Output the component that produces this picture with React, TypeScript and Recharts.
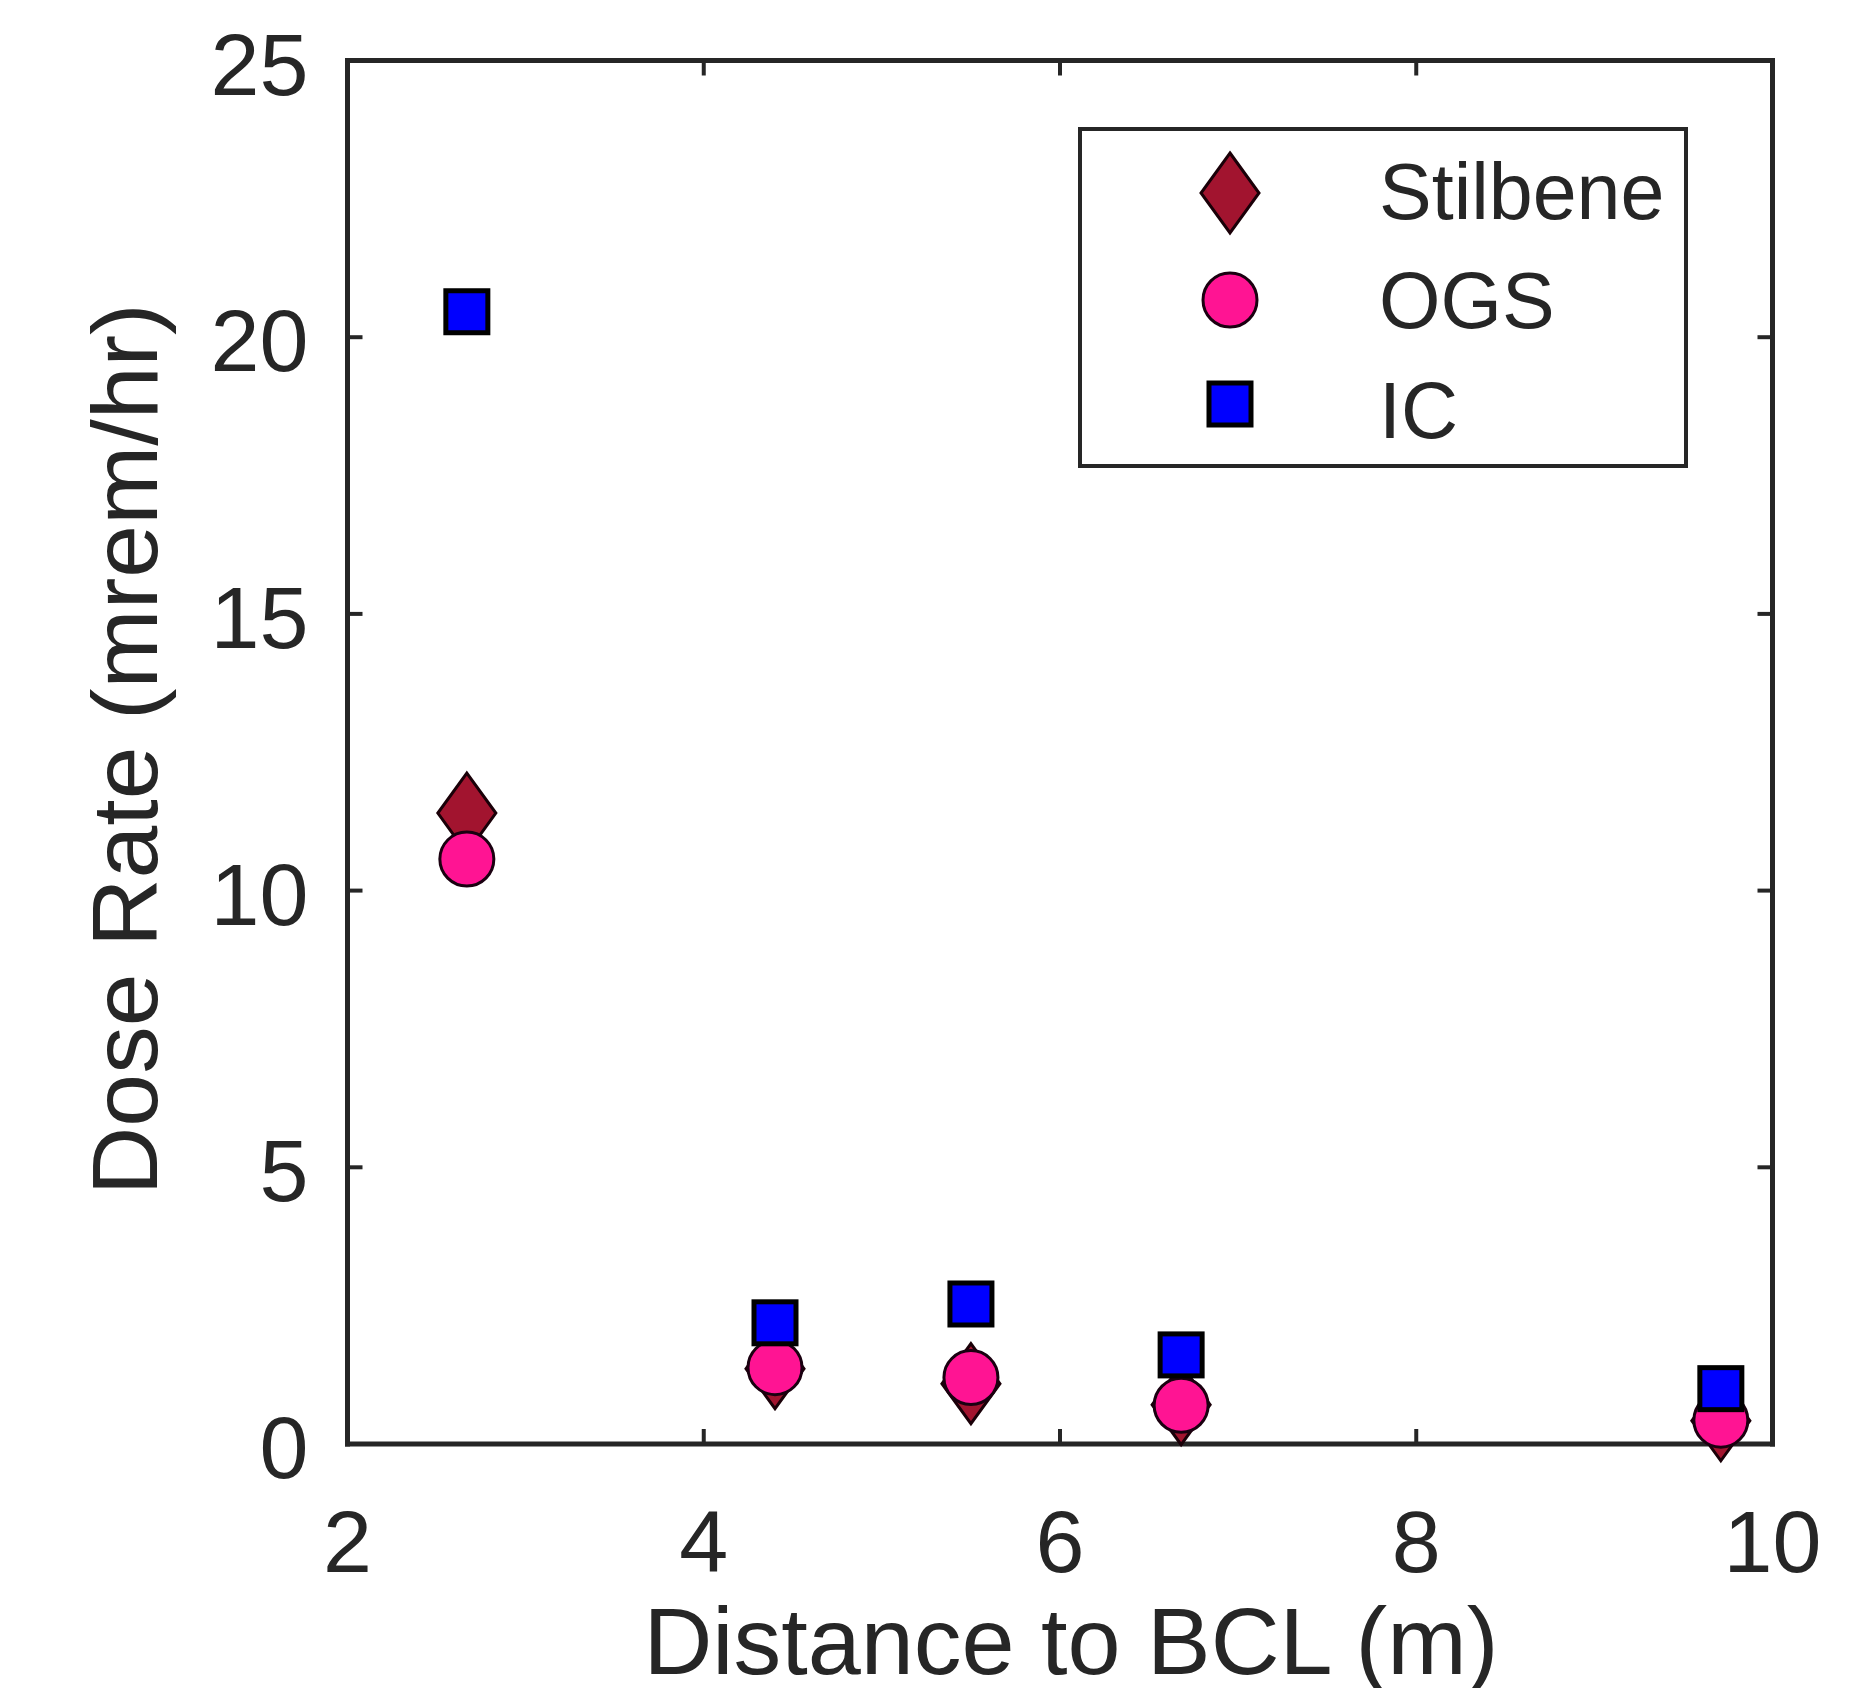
import React from 'react';
import { ScatterChart, Scatter, XAxis, YAxis, Legend, Label } from 'recharts';

// Data
const distances = [2.67, 4.40, 5.50, 6.68, 9.71];
const stilbene = [11.40, 1.36, 1.09, 0.71, 0.42];
const ogs = [10.57, 1.38, 1.20, 0.70, 0.43];
const ic = [20.46, 2.19, 2.53, 1.61, 1.00];
const xTicks = [2, 4, 6, 8, 10];
const yTicks = [0, 5, 10, 15, 20, 25];
const seriesNames = ['Stilbene', 'OGS', 'IC'];

const stilbeneData = distances.map((x, i) => ({ x, y: stilbene[i] }));
const ogsData = distances.map((x, i) => ({ x, y: ogs[i] }));
const icData = distances.map((x, i) => ({ x, y: ic[i] }));

const FONT = '"Liberation Sans", Arial, Helvetica, sans-serif';
const INK = '#262626';
const FRAME = { stroke: INK, strokeWidth: 5, strokeLinecap: 'square' as const };

const DiamondMark = ({ cx, cy }: any) => (
  <polygon
    points={`${cx},${cy - 40} ${cx + 29},${cy} ${cx},${cy + 40} ${cx - 29},${cy}`}
    fill="#A2142F"
    stroke="#1a0008"
    strokeWidth={3}
  />
);
const CircleMark = ({ cx, cy }: any) => (
  <circle cx={cx} cy={cy} r={27} fill="#FF1493" stroke="#1a0010" strokeWidth={3} />
);
const SquareMark = ({ cx, cy }: any) => (
  <rect x={cx - 21} y={cy - 21} width={42} height={42} fill="#0000FF" stroke="#000" strokeWidth={5} />
);

const BottomTick = ({ x, y, payload }: any) => (
  <g>
    <line x1={x} y1={y} x2={x} y2={y - 15} stroke={INK} strokeWidth={4} />
    <text x={x} y={y + 128} textAnchor="middle" fontFamily={FONT} fontSize={88} fill={INK}>
      {payload.value}
    </text>
  </g>
);
const TopTick = ({ x, y }: any) => (
  <line x1={x} y1={y} x2={x} y2={y + 15} stroke={INK} strokeWidth={4} />
);
const LeftTick = ({ x, y, payload }: any) => (
  <g>
    <line x1={x} y1={y} x2={x + 15} y2={y} stroke={INK} strokeWidth={4} />
    <text x={x - 39} y={y + 34} textAnchor="end" fontFamily={FONT} fontSize={88} fill={INK}>
      {payload.value}
    </text>
  </g>
);
const RightTick = ({ x, y }: any) => (
  <line x1={x} y1={y} x2={x - 15} y2={y} stroke={INK} strokeWidth={4} />
);

const XTitle = ({ viewBox }: any) => {
  const cx = viewBox.x + viewBox.width / 2 + 11;
  return (
    <text
      x={cx}
      y={viewBox.y + 230}
      textAnchor="middle"
      fontFamily={FONT}
      fontSize={94}
      fill={INK}
      textLength={855}
      lengthAdjust="spacingAndGlyphs"
    >
      Distance to BCL (m)
    </text>
  );
};

const YTitle = ({ viewBox }: any) => {
  const bx = viewBox.x + viewBox.width - 190.5;
  const cy = viewBox.y + viewBox.height / 2 - 3;
  return (
    <text
      x={bx}
      y={cy}
      transform={`rotate(-90, ${bx}, ${cy})`}
      textAnchor="middle"
      fontFamily={FONT}
      fontSize={92}
      fill={INK}
      textLength={892}
      lengthAdjust="spacingAndGlyphs"
    >
      Dose Rate (mrem/hr)
    </text>
  );
};

const legendMarks: Record<string, (cx: number, cy: number) => React.ReactNode> = {
  Stilbene: (cx, cy) => <DiamondMark cx={cx} cy={cy} />,
  OGS: (cx, cy) => <CircleMark cx={cx} cy={cy} />,
  IC: (cx, cy) => <SquareMark cx={cx} cy={cy} />,
};
const legendMarkRows = [66, 173, 277];
const legendTextRows = [92, 201, 311];

const LegendBox = ({ payload }: any) => {
  const present = new Set((payload || []).map((p: any) => p.value));
  const names = seriesNames.filter((n) => present.size === 0 || present.has(n));
  return (
    <svg width={610} height={341} style={{ display: 'block', overflow: 'visible' }}>
      <rect x={2} y={2} width={606} height={337} fill="#fff" stroke={INK} strokeWidth={4} />
      {names.map((name: string, i: number) => (
        <g key={name}>
          {legendMarks[name](152, legendMarkRows[i])}
          <text x={301} y={legendTextRows[i]} fontFamily={FONT} fontSize={79} fill={INK}>
            {name}
          </text>
        </g>
      ))}
    </svg>
  );
};

export default function App() {
  return (
    <div style={{ position: 'absolute', left: 0, top: 0, background: '#fff' }}>
      <ScatterChart
        width={1864}
        height={1688}
        margin={{ top: 59.5, right: 90.5, bottom: 243, left: 346.5 }}
      >
        <XAxis
          xAxisId="b"
          type="number"
          dataKey="x"
          orientation="bottom"
          domain={[2, 10]}
          ticks={xTicks}
          interval={0}
          height={1}
          tickSize={0}
          tickMargin={0}
          tickLine={false}
          axisLine={FRAME}
          tick={<BottomTick />}
        >
          <Label content={<XTitle />} />
        </XAxis>
        <XAxis
          xAxisId="t"
          type="number"
          dataKey="x"
          orientation="top"
          domain={[2, 10]}
          ticks={xTicks}
          interval={0}
          height={1}
          tickSize={0}
          tickMargin={0}
          tickLine={false}
          axisLine={FRAME}
          tick={<TopTick />}
        />
        <YAxis
          yAxisId="l"
          type="number"
          dataKey="y"
          orientation="left"
          domain={[0, 25]}
          ticks={yTicks}
          interval={0}
          width={1}
          tickSize={0}
          tickMargin={0}
          tickLine={false}
          axisLine={FRAME}
          tick={<LeftTick />}
        >
          <Label content={<YTitle />} />
        </YAxis>
        <YAxis
          yAxisId="r"
          type="number"
          dataKey="y"
          orientation="right"
          domain={[0, 25]}
          ticks={yTicks}
          interval={0}
          width={1}
          tickSize={0}
          tickMargin={0}
          tickLine={false}
          axisLine={FRAME}
          tick={<RightTick />}
        />
        <Legend
          layout="horizontal"
          verticalAlign="middle"
          align="center"
          content={<LegendBox />}
          wrapperStyle={{ position: 'absolute', left: 1078, top: 127, width: 610, height: 341 }}
        />
        <Scatter name="Stilbene" data={stilbeneData} xAxisId="b" yAxisId="l" fill="#A2142F" shape={<DiamondMark />} isAnimationActive={false} />
        <Scatter name="OGS" data={ogsData} xAxisId="b" yAxisId="l" fill="#FF1493" shape={<CircleMark />} isAnimationActive={false} />
        <Scatter name="IC" data={icData} xAxisId="b" yAxisId="l" fill="#0000FF" shape={<SquareMark />} isAnimationActive={false} />
        <Scatter name="_t" legendType="none" data={icData} xAxisId="t" yAxisId="r" shape={() => null} isAnimationActive={false} />
      </ScatterChart>
    </div>
  );
}
